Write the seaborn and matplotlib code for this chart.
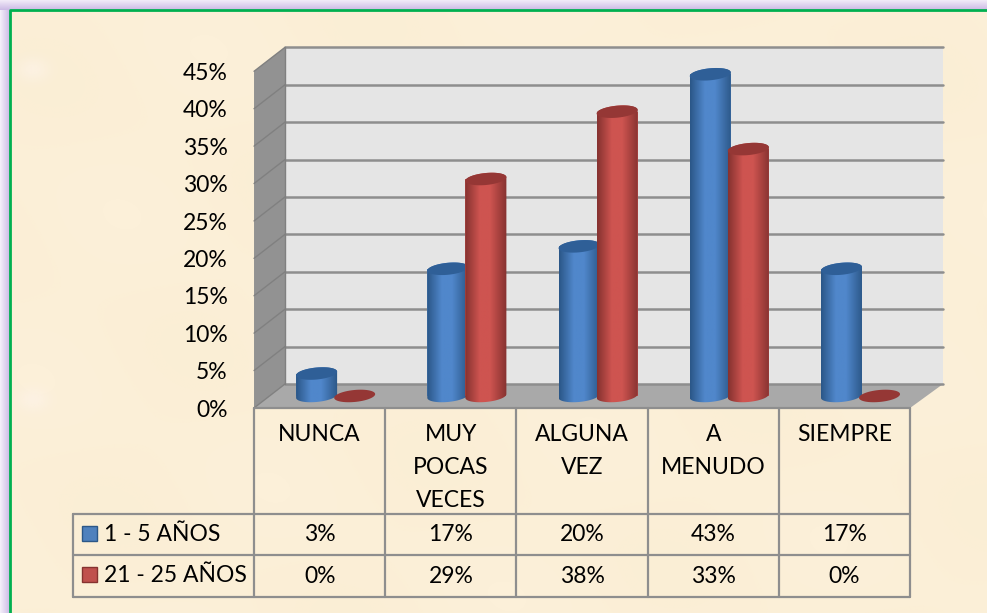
import matplotlib
matplotlib.use("Agg")
import matplotlib.pyplot as plt
import matplotlib.colors as mcolors
from matplotlib.patches import Polygon, Rectangle
from matplotlib.path import Path
import numpy as np
import pandas as pd
import seaborn as sns

categories = ["NUNCA", "MUY\nPOCAS\nVECES", "ALGUNA\nVEZ", "A\nMENUDO", "SIEMPRE"]
series_names = ["1 - 5 AÑOS", "21 - 25 AÑOS"]
young = [3, 17, 20, 43, 17]
old = [0, 29, 38, 33, 0]
yticks = [0, 5, 10, 15, 20, 25, 30, 35, 40, 45]

W, H = 987, 613
PCT = 7.48  # px for 1%
FONT = "Lato"
FS = 16.5
BG = "#FCF0D9"
GRID = "#8E8E8E"
colors = ["#4F81BD", "#C0504D"]
edge_col = ["#2B5788", "#863230"]
mid_col = ["#5087CB", "#CE5450"]
cap_col = ["#2F5F97", "#953735"]

sns.set_theme(style="white")
plt.rcParams["font.family"] = [FONT, "DejaVu Sans"]

fig = plt.figure(figsize=((W + 0.1) / 100, (H + 0.1) / 100), dpi=100, facecolor=BG)


def px_axes(x0, x1, ytop, ybot):
    return fig.add_axes([x0 / W, 1 - ybot / H, (x1 - x0) / W, (ybot - ytop) / H])


# background in pixel coordinates
bg = px_axes(0, W, 0, H)
bg.set_xlim(0, W)
bg.set_ylim(H, 0)
bg.axis("off")
bg.set_zorder(0)

lav = np.linspace(0, 1, 20)[None, :, None]
lav = (1 - lav) * np.array([0.96, 0.94, 0.98]) + lav * np.array([0.80, 0.73, 0.90])
bg.imshow(lav, extent=[0, 9, H, 0], aspect="auto", zorder=1)
bg.imshow(lav.transpose(1, 0, 2), extent=[0, W, 10, 0], aspect="auto", zorder=1)

# soft paper mottling
yy, xx = np.mgrid[0:H, 0:W]
shade = 0.5 + 0.25 * np.sin(xx / 47.0 + yy / 90.0) + 0.25 * np.sin(yy / 33.0 - xx / 71.0)
paper = np.zeros((H, W, 4))
paper[..., :3] = mcolors.to_rgb("#F4E3BE")
paper[..., 3] = 0.14 * shade
bg.imshow(paper, extent=[10, W, H, 10], aspect="auto", zorder=1)
for by0 in [70, 400]:
    blob = np.zeros((40, 80, 4))
    gy, gx = np.mgrid[-1:1:40j, -1:1:80j]
    blob[..., :3] = mcolors.to_rgb("#FEF4EA")
    blob[..., 3] = 0.6 * np.exp(-(gx ** 2 + gy ** 2) * 3)
    bg.imshow(blob, extent=[5, 60, by0 + 20, by0 - 20], aspect="auto", zorder=1)

bg.set_xlim(0, W)
bg.set_ylim(H, 0)
bg.plot([10, 10, W], [H, 10, 10], color="#00B050", lw=2, zorder=2)

# walls
bx0, bx1, by = 285, 943, 384
fx0, fx1, fy = 254, 910, 408
top = by - 45 * PCT
bg.add_patch(Rectangle((bx0, top), bx1 - bx0, by - top, color="#E5E5E5", lw=0, zorder=3))
bg.add_patch(Polygon([(fx0, fy - 45 * PCT), (bx0, top), (bx0, by), (fx0, fy)], color="#929292", lw=0, zorder=3))
bg.add_patch(Polygon([(fx0, fy), (bx0, by), (bx1, by), (fx1, fy)], color="#A9A9A9", lw=0, zorder=3))
for t in yticks:
    bg.plot([bx0, bx1], [by - t * PCT] * 2, color=GRID, lw=1.8, zorder=4)
    bg.plot([fx0, bx0], [fy - t * PCT, by - t * PCT], color="#808080", lw=1, zorder=4)
bg.plot([bx0, bx0], [top, by], color="#808080", lw=1, zorder=4)

# table
col_w = (fx1 - fx0) / len(categories)
for i in range(len(categories) + 1):
    x = fx0 + i * col_w
    bg.plot([x, x], [fy, 597], color=GRID, lw=1.6, zorder=4)
bg.plot([fx0, fx1], [fy, fy], color=GRID, lw=1.6, zorder=5)
for y in [514, 555, 597]:
    bg.plot([73, fx1], [y, y], color=GRID, lw=1.6, zorder=4)
bg.plot([73, 73], [514, 597], color=GRID, lw=1.6, zorder=4)

for i, cat in enumerate(categories):
    cx = fx0 + (i + 0.5) * col_w
    for j, line in enumerate(cat.split("\n")):
        bg.text(cx, 434 + j * 33, line, ha="center", va="center", fontsize=FS, color="black")
    bg.text(cx, 534, f"{young[i]}%", ha="center", va="center", fontsize=FS, color="black")
    bg.text(cx, 576, f"{old[i]}%", ha="center", va="center", fontsize=FS, color="black")
for name, c, ec, y in zip(series_names, colors, edge_col, [534, 575]):
    bg.add_patch(Rectangle((82, y - 7.5), 15, 15, fc=c, ec=ec, lw=1, zorder=5))
    bg.text(104, y, name, ha="left", va="center", fontsize=FS, color="black")

# percent labels on the front plane
front = px_axes(fx0, fx1, fy - 45 * PCT, fy)
front.patch.set_alpha(0)
front.set_ylim(0, 45)
front.set_yticks(yticks)
front.set_yticklabels([f"{t}%" for t in yticks], fontsize=FS, color="black")
front.set_xticks([])
front.tick_params(axis="y", length=0, pad=19)
sns.despine(ax=front, left=True, bottom=True)
front.set_zorder(1)

# cylinders
base = 396
lo, hi = -3, 48
ax = px_axes(fx0 + 16, fx1 + 16, base - hi * PCT, base - lo * PCT)
ax.patch.set_alpha(0)
ax.set_zorder(2)
df = pd.DataFrame({
    "cat": categories * 2,
    "serie": [series_names[0]] * 5 + [series_names[1]] * 5,
    "pct": young + old,
})
sns.barplot(data=df, x="cat", y="pct", hue="serie", hue_order=series_names, palette=colors,
            width=0.58, gap=0, saturation=1, errorbar=None, legend=False, linewidth=0, ax=ax)
ax.set_xlim(-0.5, 4.5)
ax.set_ylim(lo, hi)
ax.axis("off")
fig.canvas.draw()


def to_px(x, y):
    p = ax.transData.transform((x, y))
    return bg.transData.inverted().transform(p)


def oval(cx, cy, a, b=6, t0=0, t1=2 * np.pi):
    t = np.linspace(t0, t1, 60)
    xs = cx + a * np.cos(t)
    ys = cy + b * np.sin(t) - 0.09 * a * np.cos(t)
    return np.column_stack([xs, ys])


for s, cont in enumerate(ax.containers):
    z = 3 + s * 3
    for bar in cont:
        c = bar.get_x() + bar.get_width() / 2
        w = 41 / col_w
        bar.set_x(c - w / 2)
        bar.set_width(w)
        bar.set_zorder(z)
        h = bar.get_height()
        (pl, py0) = to_px(c - w / 2, 0)
        (pr, py1) = to_px(c + w / 2, h)
        pc, a = (pl + pr) / 2, (pr - pl) / 2
        if h > 0:
            body = np.vstack([oval(pc, py0, a, t0=0, t1=np.pi), oval(pc, py1, a, t0=np.pi, t1=2 * np.pi)])
            grad = np.linspace(0, 1, 60)
            stops = [mcolors.to_rgb(edge_col[s]), mcolors.to_rgb(mid_col[s]), mcolors.to_rgb(mid_col[s]), mcolors.to_rgb(edge_col[s])]
            img = np.stack([np.interp(grad, [0, 0.35, 0.6, 1], [st[k] for st in stops]) for k in range(3)], axis=-1)[None, :, :]
            im = ax.imshow(img, extent=[c - w / 2, c + w / 2, lo, h + 1], aspect="auto", zorder=z + 1)
            im.set_clip_path(Path(np.vstack([body, body[:1]])), bg.transData)
        ax.add_patch(Polygon(oval(pc, py1, a), fc=cap_col[s], ec="none", transform=bg.transData, zorder=z + 2, clip_on=False))
ax.set_xlim(-0.5, 4.5)
ax.set_ylim(lo, hi)

fig.savefig("out.png", dpi=100, facecolor=BG)
